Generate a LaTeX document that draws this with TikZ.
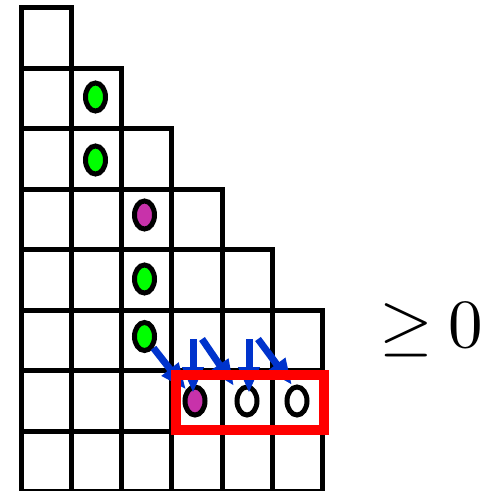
\documentclass[tikz,border=0pt]{standalone}
\usetikzlibrary{arrows.meta,shapes.geometric}
\definecolor{dotgreen}{RGB}{0,255,0}
\definecolor{dotmag}{RGB}{200,50,170}
\definecolor{arrblue}{RGB}{0,51,204}
\begin{document}
\begin{tikzpicture}[x=1pt,y=-1pt,
  cell/.style={draw=black,line width=5pt},
  dot/.style={ellipse,draw=black,line width=5pt,minimum width=20pt,minimum height=28pt,inner sep=0pt},
  flow/.style={draw=arrblue,line width=7pt,-{Triangle[length=26pt,width=20pt]}},
  hlbox/.style={draw=red,line width=10pt}]
\useasboundingbox (0,0) rectangle (483,491);
% staircase grid
\foreach \r/\n in {0/1,1/2,2/3,3/4,4/5,5/6,6/6,7/6} {
  \foreach \c in {1,...,\n} {
    \draw[cell] ({21+50.25*(\c-1)},{7.5+60.5*\r}) rectangle ++(50.25,60.5);
  }
}
% dots
\node[dot,fill=dotgreen] (g1) at (95.5,97) {};
\node[dot,fill=dotgreen] (g2) at (95.5,160) {};
\node[dot,fill=dotmag] (m3) at (144.5,215) {};
\node[dot,fill=dotgreen] (g4) at (144.5,279) {};
\node[dot,fill=dotgreen] (g5) at (144.5,336.5) {};
\node[dot,fill=dotmag] (m6) at (195,401) {};
\node[dot,fill=white] (w7) at (247,401) {};
\node[dot,fill=white] (w8) at (297,401) {};
% arrows
\coordinate (a2s) at (193,339);
\coordinate (a2e) at (193,393);
\coordinate (a3s) at (202,339);
\coordinate (a3e) at (234,386);
\coordinate (a4s) at (249,339);
\coordinate (a4e) at (249,393);
\coordinate (a5s) at (258,339);
\coordinate (a5e) at (292,385);
\draw[flow] (g5) -- (m6);
\draw[flow] (a2s) -- (a2e);
\draw[flow] (a3s) -- (a3e);
\draw[flow] (a4s) -- (a4e);
\draw[flow] (a5s) -- (a5e);
% highlight box
\draw[hlbox] (175.5,375) rectangle (324,430);
% label
\node[scale=6.9,inner sep=0pt,anchor=base] (lbl) at (431.25,347.5) {${\geq}\mskip4mu 0$};
\end{tikzpicture}
\end{document}
